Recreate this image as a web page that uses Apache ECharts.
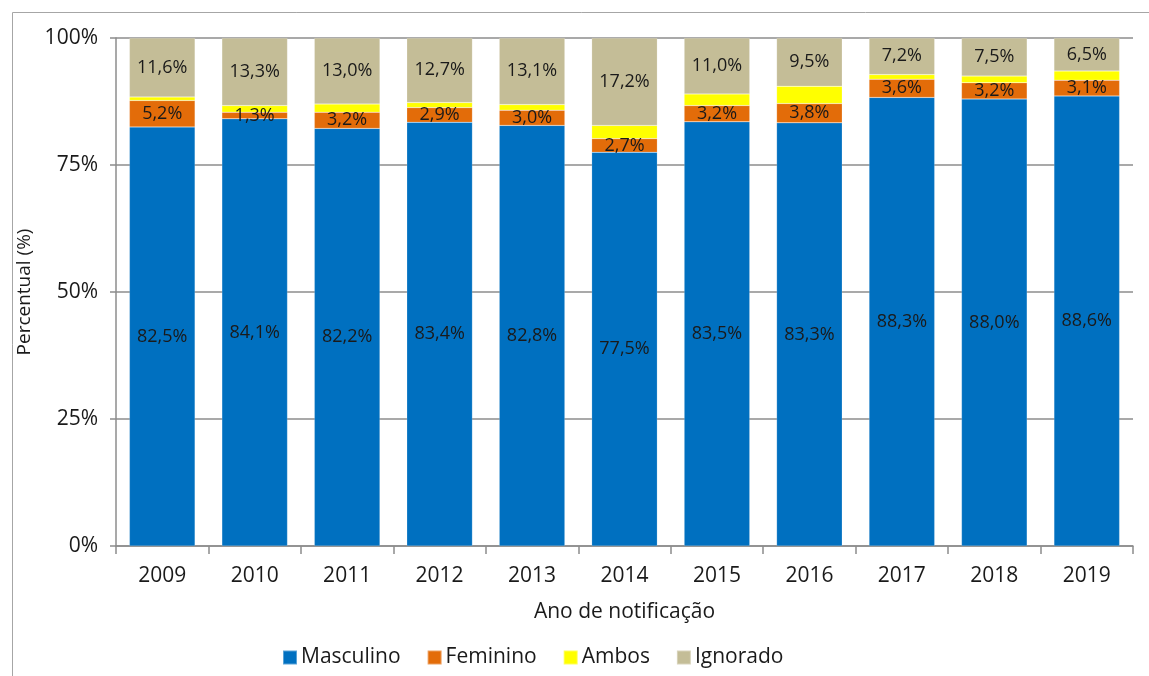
<!DOCTYPE html>
<html>
<head>
<meta charset="utf-8">
<script src="https://cdn.jsdelivr.net/npm/echarts@6/dist/echarts.min.js"></script>
<style>
  html, body { margin: 0; padding: 0; background: #fff; }
  #chart { width: 1149px; height: 676px; }
</style>
</head>
<body>
<div id="chart"></div>
<script>
// dados
var anos = ['2009', '2010', '2011', '2012', '2013', '2014', '2015', '2016', '2017', '2018', '2019'];
var masculino = [82.5, 84.1, 82.2, 83.4, 82.8, 77.5, 83.5, 83.3, 88.3, 88.0, 88.6];
var feminino = [5.2, 1.3, 3.2, 2.9, 3.0, 2.7, 3.2, 3.8, 3.6, 3.2, 3.1];
var ambos = [0.7, 1.3, 1.6, 1.0, 1.1, 2.6, 2.3, 3.4, 0.9, 1.3, 1.8];
var ignorado = [11.6, 13.3, 13.0, 12.7, 13.1, 17.2, 11.0, 9.5, 7.2, 7.5, 6.5];
var yTicks = [0, 25, 50, 75, 100];

var fonte = 'Open Sans, Noto Sans, sans-serif';
var corTexto = '#1a1a1a';

function pct(p) {
    return p.value.toFixed(1).replace('.', ',') + '%';
}

function serie(nome, dados, cor, comLabel) {
    return {
        name: nome,
        type: 'bar',
        stack: 'total',
        barWidth: '71%',
        data: dados,
        itemStyle: { color: cor, borderColor: 'rgba(255,255,255,0.35)', borderWidth: 0.5 },
        label: {
            show: comLabel,
            position: 'inside',
            formatter: pct,
            color: corTexto,
            fontFamily: fonte,
            fontSize: 18
        }
    };
}

var dom = document.getElementById('chart');
var myChart = echarts.init(dom, null, { renderer: 'canvas' });

var option = {
    animation: false,
    backgroundColor: '#fff',
    graphic: [{
        type: 'rect',
        left: 10, top: 10,
        shape: { width: 1160, height: 700 },
        style: { fill: 'none', stroke: '#a6a6a6', lineWidth: 1 },
        silent: true
    }],
    grid: { left: 116, right: 16, top: 38, bottom: 130 },
    legend: {
        bottom: 3,
        left: 277,
        itemWidth: 14,
        itemHeight: 14,
        itemGap: 26,
        icon: 'rect',
        textStyle: { fontFamily: fonte, fontSize: 21, color: corTexto, padding: [0, 0, 0, -1] },
        data: ['Masculino', 'Feminino', 'Ambos', 'Ignorado']
    },
    xAxis: {
        type: 'category',
        data: anos,
        name: 'Ano de notificação',
        nameLocation: 'middle',
        nameGap: 56,
        nameTextStyle: { fontFamily: fonte, fontSize: 21, color: corTexto },
        axisLine: { lineStyle: { color: '#8c8c8c', width: 1.5 } },
        axisTick: { show: true, length: 8, alignWithLabel: false, lineStyle: { color: '#8c8c8c', width: 1.5 } },
        axisLabel: { fontFamily: fonte, fontSize: 21, color: corTexto, margin: 20 }
    },
    yAxis: {
        type: 'value',
        min: yTicks[0],
        max: yTicks[yTicks.length - 1],
        interval: 25,
        name: 'Percentual (%)',
        nameLocation: 'middle',
        nameGap: 64,
        nameRotate: 90,
        nameTextStyle: { fontFamily: fonte, fontSize: 19, color: corTexto },
        axisLine: { show: true, lineStyle: { color: '#8c8c8c', width: 1.5 } },
        axisTick: { show: true, length: 6, inside: false, lineStyle: { color: '#8c8c8c', width: 1.5 } },
        axisLabel: { fontFamily: fonte, fontSize: 21, color: corTexto, margin: 18, formatter: '{value}%' },
        splitLine: { show: true, lineStyle: { color: '#8c8c8c', width: 1.5 } }
    },
    series: [
        serie('Masculino', masculino, '#0070C0', true),
        serie('Feminino', feminino, '#E36C09', true),
        serie('Ambos', ambos, '#FFFF00', false),
        serie('Ignorado', ignorado, '#C4BD97', true)
    ]
};

myChart.setOption(option);
window.addEventListener('resize', myChart.resize);
</script>
</body>
</html>
